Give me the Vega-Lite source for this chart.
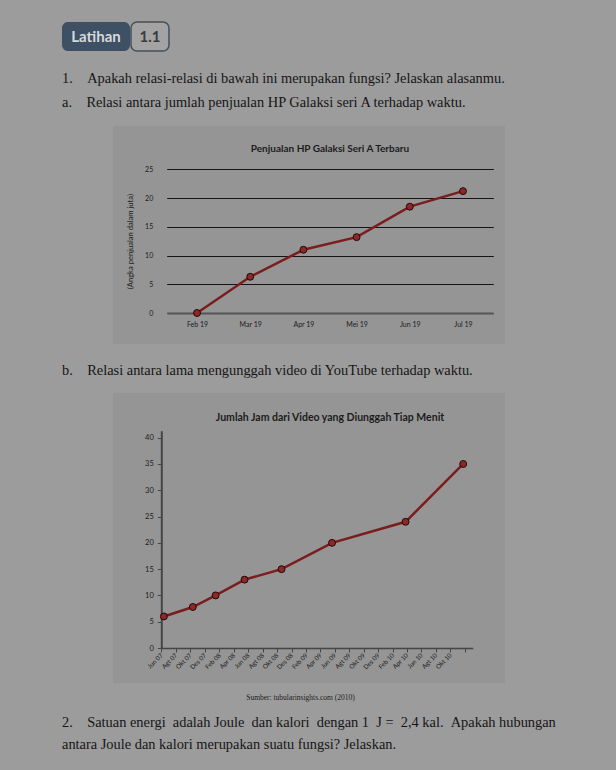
{
  "$schema": "https://vega.github.io/schema/vega-lite/v6.json",
  "background": "#9c9c9c",
  "padding": {"left": 62, "top": 21, "right": 79, "bottom": 22},
  "spacing": 18,
  "config": {
    "view": {"stroke": null},
    "font": "Lato",
    "axis": {"labelFont": "Lato", "titleFont": "Lato", "labelColor": "#1c1c1c", "titleColor": "#1c1c1c"}
  },
  "title": {
    "text": [
      "2.\u00a0\u00a0\u00a0\u00a0Satuan energi \u00a0adalah Joule \u00a0dan kalori \u00a0dengan 1 \u00a0J = \u00a02,4 kal. \u00a0Apakah hubungan",
      "\u00a0\u00a0\u00a0\u00a0\u00a0\u00a0\u00a0antara Joule dan kalori merupakan suatu fungsi? Jelaskan."
    ],
    "orient": "bottom",
    "anchor": "start",
    "font": "Liberation Serif",
    "fontSize": 14.4,
    "fontWeight": "normal",
    "color": "#161616",
    "lineHeight": 22,
    "offset": 15
  },
  "vconcat": [
    {
      "spacing": 0,
      "hconcat": [
        {
          "width": 68,
          "height": 29,
          "view": {"fill": "#3e5064", "cornerRadius": 6, "stroke": null},
          "data": {"values": [{"label": "Latihan"}]},
          "mark": {"type": "text", "font": "Lato", "fontWeight": "bold", "fontSize": 15, "color": "#d6d9dc"},
          "encoding": {"text": {"field": "label"}}
        },
        {
          "width": 38,
          "height": 29,
          "view": {"fill": "#a3a3a3", "cornerRadius": 6, "stroke": "#46505a", "strokeWidth": 1.5},
          "data": {"values": [{"label": "1.1"}]},
          "mark": {"type": "text", "font": "Lato", "fontWeight": "bold", "fontSize": 15, "color": "#3c3c3c"},
          "encoding": {"text": {"field": "label"}}
        }
      ]
    },
    {
      "title": {
        "text": [
          "1.\u00a0\u00a0\u00a0\u00a0Apakah relasi-relasi di bawah ini merupakan fungsi? Jelaskan alasanmu.",
          "\u00a0\u00a0\u00a0\u00a0\u00a0\u00a0\u00a0a.\u00a0\u00a0\u00a0\u00a0Relasi antara jumlah penjualan HP Galaksi seri A terhadap waktu."
        ],
        "anchor": "start",
        "font": "Liberation Serif",
        "fontSize": 14.4,
        "fontWeight": "normal",
        "color": "#161616",
        "lineHeight": 24,
        "offset": 16
      },
      "spacing": 50,
      "hconcat": [
        {"width": 1, "height": 10, "data": {"values": []}, "mark": "text", "encoding": {}},
        {
          "width": 392,
          "height": 218,
          "view": {"fill": "#959595", "stroke": null},
          "title": {
            "text": "Penjualan HP Galaksi Seri A Terbaru",
            "font": "Lato",
            "fontSize": 10,
            "fontWeight": "bold",
            "color": "#1c1c1c",
            "anchor": "middle",
            "frame": "group",
            "dx": 21,
            "offset": -28
          },
          "data": {
            "values": [
              {"bulan": "Feb 19", "penjualan": 0},
              {"bulan": "Mar 19", "penjualan": 6.3},
              {"bulan": "Apr 19", "penjualan": 11},
              {"bulan": "Mei 19", "penjualan": 13.2},
              {"bulan": "Jun 19", "penjualan": 18.5},
              {"bulan": "Jul 19", "penjualan": 21.2}
            ]
          },
          "encoding": {
            "x": {
              "field": "bulan",
              "type": "ordinal",
              "sort": null,
              "scale": {"type": "point", "range": [53.7, 380.3], "padding": 0.57},
              "axis": {
                "title": null,
                "offset": -31,
                "domain": false,
                "ticks": false,
                "tickSize": 0,
                "labelPadding": 7,
                "labelFontSize": 7,
                "labelAngle": 0
              }
            },
            "y": {
              "field": "penjualan",
              "type": "quantitative",
              "scale": {"domain": [0, 25], "range": [187, 43.3], "nice": false},
              "axis": {
                "title": "(Angka penjualan dalam juta)",
                "titleFontSize": 7.6,
                "titleFontWeight": "normal",
                "titlePadding": 10,
                "offset": -53.7,
                "values": [0, 5, 10, 15, 20, 25],
                "domain": false,
                "ticks": false,
                "tickSize": 0,
                "labelPadding": 14,
                "labelFontSize": 7,
                "grid": true,
                "gridColor": {"condition": {"test": "datum.value === 0", "value": "#555555"}, "value": "#141414"},
                "gridWidth": {"condition": {"test": "datum.value === 0", "value": 2}, "value": 1},
                "gridOpacity": 1
              }
            }
          },
          "layer": [
            {"mark": {"type": "line", "color": "#7b1d1d", "strokeWidth": 2.5}},
            {"mark": {"type": "point", "filled": true, "fill": "#8c2828", "stroke": "#250808", "strokeWidth": 1, "size": 48, "opacity": 1}}
          ]
        }
      ]
    },
    {
      "title": {
        "text": "\u00a0\u00a0\u00a0\u00a0\u00a0\u00a0\u00a0b.\u00a0\u00a0\u00a0\u00a0Relasi antara lama mengunggah video di YouTube terhadap waktu.",
        "anchor": "start",
        "font": "Liberation Serif",
        "fontSize": 14.4,
        "fontWeight": "normal",
        "color": "#161616",
        "offset": 15
      },
      "spacing": 50,
      "hconcat": [
        {"width": 1, "height": 10, "data": {"values": []}, "mark": "text", "encoding": {}},
        {
          "width": 392,
          "height": 290,
          "view": {"fill": "#959595", "stroke": null},
          "title": {
            "text": "Jumlah Jam dari Video yang Diunggah Tiap Menit",
            "font": "Lato",
            "fontSize": 10.5,
            "fontWeight": "bold",
            "color": "#1c1c1c",
            "anchor": "middle",
            "frame": "group",
            "dx": 21,
            "offset": -30
          },
          "data": {
            "values": [
              {"tanggal": "2007/06/12", "jam": 6},
              {"tanggal": "2007/10/12", "jam": 7.8},
              {"tanggal": "2008/01/16", "jam": 10},
              {"tanggal": "2008/05/17", "jam": 13},
              {"tanggal": "2008/10/20", "jam": 15},
              {"tanggal": "2009/05/21", "jam": 20},
              {"tanggal": "2010/03/27", "jam": 24},
              {"tanggal": "2010/11/25", "jam": 35}
            ]
          },
          "encoding": {
            "x": {
              "field": "tanggal",
              "type": "temporal",
              "scale": {
                "domain": [{"year": 2007, "month": "jun", "date": 1}, {"year": 2011, "month": "jan", "date": 4}],
                "range": [48.3, 359.7],
                "nice": false
              },
              "axis": {
                "title": "Sumber: tubularinsights.com (2010)",
                "titleFont": "Liberation Serif",
                "titleFontSize": 7.5,
                "titleFontWeight": "normal",
                "titlePadding": 23,
                "titleX": 187,
                "titleAnchor": "middle",
                "offset": -35,
                "values": [
                  {"year": 2007, "month": "jun", "date": 1}, {"year": 2007, "month": "aug", "date": 1},
                  {"year": 2007, "month": "oct", "date": 1}, {"year": 2007, "month": "dec", "date": 1},
                  {"year": 2008, "month": "feb", "date": 1}, {"year": 2008, "month": "apr", "date": 1},
                  {"year": 2008, "month": "jun", "date": 1}, {"year": 2008, "month": "aug", "date": 1},
                  {"year": 2008, "month": "oct", "date": 1}, {"year": 2008, "month": "dec", "date": 1},
                  {"year": 2009, "month": "feb", "date": 1}, {"year": 2009, "month": "apr", "date": 1},
                  {"year": 2009, "month": "jun", "date": 1}, {"year": 2009, "month": "aug", "date": 1},
                  {"year": 2009, "month": "oct", "date": 1}, {"year": 2009, "month": "dec", "date": 1},
                  {"year": 2010, "month": "feb", "date": 1}, {"year": 2010, "month": "apr", "date": 1},
                  {"year": 2010, "month": "jun", "date": 1}, {"year": 2010, "month": "aug", "date": 1},
                  {"year": 2010, "month": "oct", "date": 1}, {"year": 2010, "month": "dec", "date": 1}
                ],
                "labelExpr": "datum.value >= datetime(2010, 11, 1) ? '' : ['Jan','Feb','Mar','Apr','Mei','Jun','Jul','Agt','Sep','Okt','Nov','Des'][month(datum.value)] + ' ' + timeFormat(datum.value, '%y')",
                "labelAngle": -45,
                "labelAlign": "right",
                "labelBaseline": "middle",
                "labelFontSize": 6.3,
                "labelFlush": false,
                "labelOverlap": false,
                "labelBound": false,
                "labelPadding": 2,
                "domain": true,
                "domainColor": "#454545",
                "domainWidth": 1.5,
                "ticks": true,
                "tickColor": "#454545",
                "tickSize": 4,
                "tickWidth": 1,
                "grid": false
              }
            },
            "y": {
              "field": "jam",
              "type": "quantitative",
              "scale": {"domain": [0, 41.33], "range": [255, 37.7], "nice": false},
              "axis": {
                "title": null,
                "offset": -48.3,
                "values": [0, 5, 10, 15, 20, 25, 30, 35, 40],
                "domain": true,
                "domainColor": "#454545",
                "domainWidth": 2,
                "ticks": true,
                "tickColor": "#454545",
                "tickSize": 4,
                "labelPadding": 4,
                "labelFontSize": 7.5,
                "grid": false
              }
            }
          },
          "layer": [
            {"mark": {"type": "line", "color": "#7b1d1d", "strokeWidth": 2.5}},
            {"mark": {"type": "point", "filled": true, "fill": "#8c2828", "stroke": "#250808", "strokeWidth": 1, "size": 48, "opacity": 1}}
          ]
        }
      ]
    }
  ]
}
